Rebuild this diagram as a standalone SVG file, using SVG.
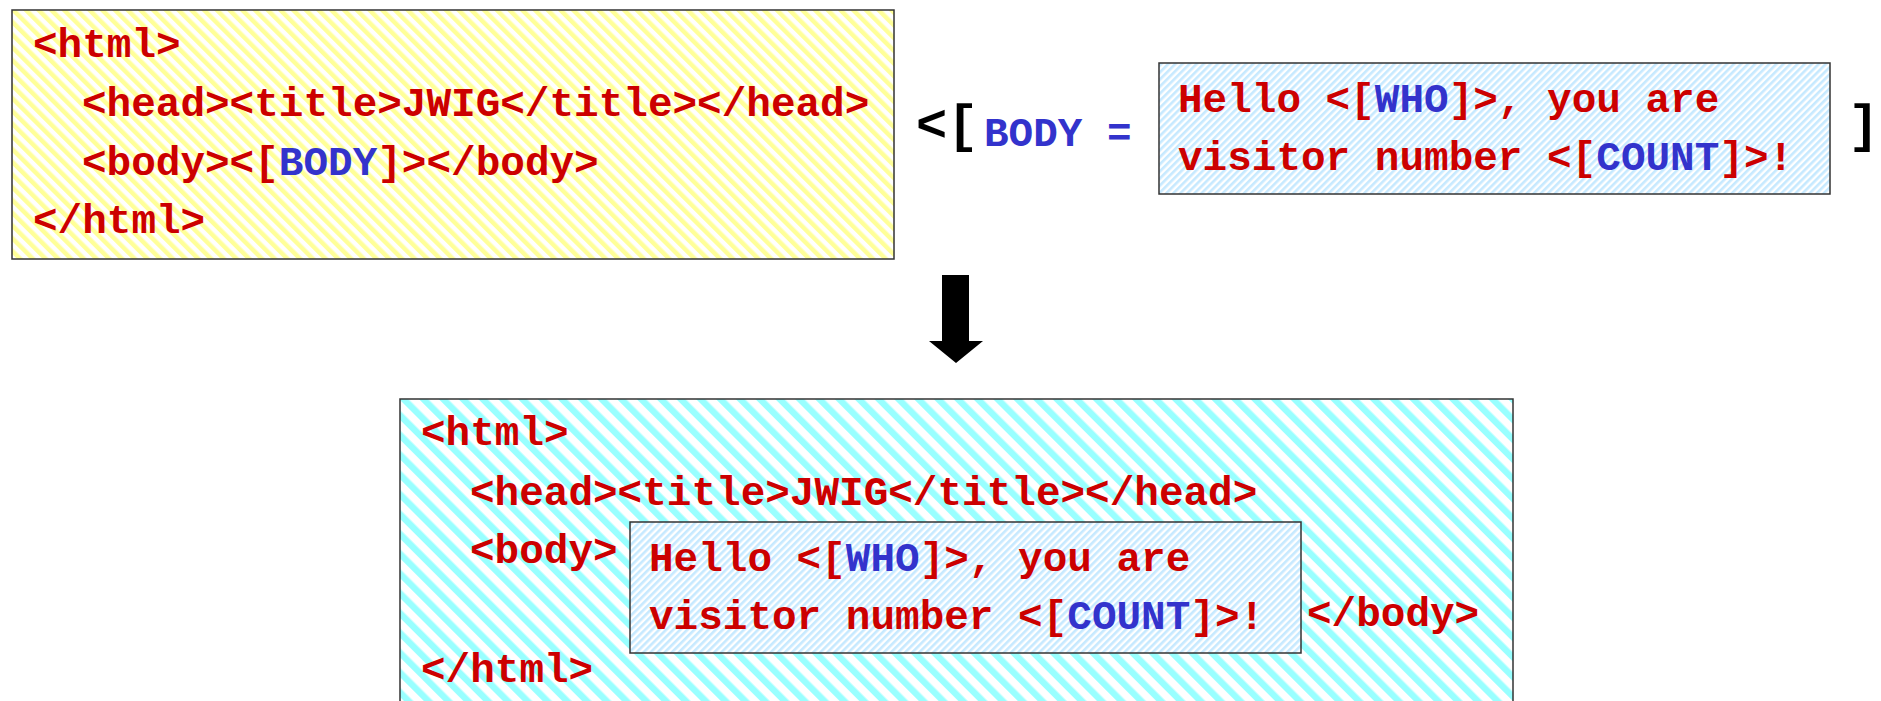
<svg xmlns="http://www.w3.org/2000/svg" width="1881" height="701" viewBox="0 0 1881 701">
<defs>
<pattern id="pYellow" patternUnits="userSpaceOnUse" width="9" height="9" patternTransform="rotate(-45)">
<rect width="9" height="9" fill="#ffffff"/><rect width="4.5" height="9" fill="#ffff99"/>
</pattern>
<pattern id="pBlue" patternUnits="userSpaceOnUse" width="5" height="5" patternTransform="rotate(45)">
<rect width="5" height="5" fill="#ffffff"/><rect width="2.6" height="5" fill="#c6e9ff"/>
</pattern>
<pattern id="pCyan" patternUnits="userSpaceOnUse" width="14" height="14" patternTransform="rotate(-45)">
<rect width="14" height="14" fill="#ffffff"/><rect width="6.5" height="14" fill="#99ffff"/>
</pattern>
</defs>
<style>
.box{stroke:#333333;stroke-width:1.5}
.code{font-family:"Liberation Mono","Courier New",monospace;font-weight:bold;font-size:41px;fill:#cc0000}
.v{fill:#3333cc}
.big{font-family:"Liberation Mono","Courier New",monospace;font-weight:bold;font-size:52px;fill:#000000}
</style>
<rect width="1881" height="701" fill="#ffffff"/>

<g id="template">
<rect class="box" x="12" y="10" width="882" height="249" fill="url(#pYellow)"/>
<text class="code" xml:space="preserve" x="33" y="57">&lt;html&gt;</text>
<text class="code" xml:space="preserve" x="82" y="116">&lt;head&gt;&lt;title&gt;JWIG&lt;/title&gt;&lt;/head&gt;</text>
<text class="code" xml:space="preserve" x="82" y="175">&lt;body&gt;&lt;[<tspan class="v">BODY</tspan>]&gt;&lt;/body&gt;</text>
<text class="code" xml:space="preserve" x="33" y="233">&lt;/html&gt;</text>
</g>

<g id="plug">
<text class="big" x="916" y="141">&lt;[</text>
<text class="code v" xml:space="preserve" x="984" y="146">BODY =</text>
<rect class="box" x="1159" y="63" width="671" height="131" fill="url(#pBlue)"/>
<text class="code" xml:space="preserve" x="1178" y="112">Hello &lt;[<tspan class="v">WHO</tspan>]&gt;, you are</text>
<text class="code" xml:space="preserve" x="1178" y="170">visitor number &lt;[<tspan class="v">COUNT</tspan>]&gt;!</text>
<text class="big" x="1848" y="141">]</text>
</g>

<g id="connectors">
<polygon points="942,275 969,275 969,341 983,341 956,363 929,341 942,341" fill="#000000"/>
</g>

<g id="result">
<rect class="box" x="400" y="399" width="1113" height="320" fill="url(#pCyan)"/>
<text class="code" xml:space="preserve" x="421" y="445">&lt;html&gt;</text>
<text class="code" xml:space="preserve" x="470" y="505">&lt;head&gt;&lt;title&gt;JWIG&lt;/title&gt;&lt;/head&gt;</text>
<text class="code" xml:space="preserve" x="470" y="563">&lt;body&gt;</text>
<g id="result-inner">
<rect class="box" x="630" y="522" width="671" height="131" fill="url(#pBlue)"/>
<text class="code" xml:space="preserve" x="649" y="571">Hello &lt;[<tspan class="v">WHO</tspan>]&gt;, you are</text>
<text class="code" xml:space="preserve" x="649" y="629">visitor number &lt;[<tspan class="v">COUNT</tspan>]&gt;!</text>
</g>
<text class="code" xml:space="preserve" x="1307" y="626">&lt;/body&gt;</text>
<text class="code" xml:space="preserve" x="421" y="682">&lt;/html&gt;</text>
</g>
</svg>
